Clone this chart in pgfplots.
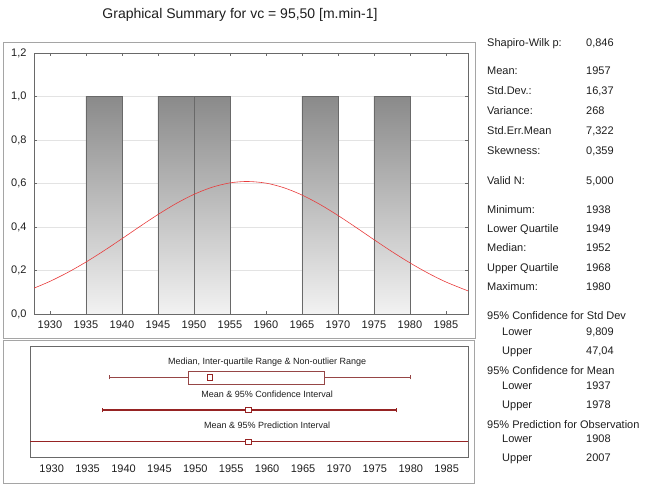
\documentclass[border=0pt]{standalone}
\usepackage{pgfplots}
\pgfplotsset{compat=1.18}
\usepackage{fontspec}
\setmainfont{Liberation Sans}
\definecolor{dred}{RGB}{150,35,35}
\definecolor{bred}{RGB}{150,70,70}
\definecolor{axgray}{RGB}{105,105,105}
\definecolor{panel}{RGB}{165,165,165}
\definecolor{bartop}{RGB}{138,138,138}
\definecolor{barbot}{RGB}{242,242,242}
\definecolor{curve}{RGB}{232,60,60}
\definecolor{txt}{RGB}{30,30,30}
\begin{document}
\begin{tikzpicture}[x=1pt,y=1pt]
\useasboundingbox (0,0) rectangle (650,487);
\draw[panel] (3,445) rectangle (475,149);
\draw[panel] (3,147) rectangle (474,4);
\node[font=\fontsize{14}{16}\selectfont, text=txt] at (240,472) {Graphical Summary for vc = 95,50 [m.min-1]};

\begin{axis}[at={(34pt,173pt)}, anchor=south west, scale only axis,
  width=434pt, height=261pt,
  xmin=1927.78, xmax=1988.06, ymin=0, ymax=1.2,
  xtick={1930,1935,1940,1945,1950,1955,1960,1965,1970,1975,1980,1985},
  ytick={0,0.2,0.4,0.6,0.8,1.0,1.2},
  tick align=inside, major tick length=3pt,
  tick style={axgray, line width=0.5pt},
  axis line style={axgray, line width=0.6pt},
  ymajorgrids, grid style={gray!22, line width=0.5pt},
  /pgf/number format/assume math mode=true,
  ticklabel style={font=\fontsize{11}{12}\selectfont, text=txt},
  xticklabel style={/pgf/number format/1000 sep={}, yshift=-3pt},
  yticklabel style={/pgf/number format/.cd, fixed, fixed zerofill, precision=1, use comma, /tikz/.cd, xshift=-4pt},
]
\addplot[ybar interval, draw=axgray, line width=0.5pt, top color=bartop, bottom color=barbot] coordinates {(1935,1)(1940,1)};
\addplot[ybar interval, draw=axgray, line width=0.5pt, top color=bartop, bottom color=barbot] coordinates {(1945,1)(1950,1)};
\addplot[ybar interval, draw=axgray, line width=0.5pt, top color=bartop, bottom color=barbot] coordinates {(1950,1)(1955,1)};
\addplot[ybar interval, draw=axgray, line width=0.5pt, top color=bartop, bottom color=barbot] coordinates {(1965,1)(1970,1)};
\addplot[ybar interval, draw=axgray, line width=0.5pt, top color=bartop, bottom color=barbot] coordinates {(1975,1)(1980,1)};
\addplot[curve, line width=0.6pt, smooth, no marks] coordinates {
(1927.78,0.1188)(1930,0.1501)(1932.5,0.1916)(1935,0.2389)(1937.5,0.2910)
(1940,0.3463)(1942.5,0.4027)(1945,0.4573)(1947.5,0.5075)(1950,0.5501)
(1952.5,0.5826)(1955,0.6028)(1957.4,0.6093)(1960,0.6017)(1962.5,0.5804)
(1965,0.5470)(1967.5,0.5037)(1970,0.4531)(1972.5,0.3982)(1975,0.3418)
(1977.5,0.2867)(1980,0.2350)(1982.5,0.1881)(1985,0.1471)(1988.06,0.1062)};
\end{axis}

\begin{axis}[at={(30pt,30pt)}, anchor=south west, scale only axis,
  width=438pt, height=110.3pt,
  xmin=1926.98, xmax=1987.97, ymin=0, ymax=1,
  xtick={1930,1935,1940,1945,1950,1955,1960,1965,1970,1975,1980,1985},
  ytick=\empty, major tick length=0pt,
  axis line style={axgray, line width=0.6pt},
  /pgf/number format/assume math mode=true,
  ticklabel style={font=\fontsize{11}{12}\selectfont, text=txt},
  xticklabel style={/pgf/number format/1000 sep={}, yshift=-4pt},
]
% box & whiskers
\addplot[bred, line width=0.6pt] coordinates {(1938,0.721)(1949,0.721)};
\addplot[bred, line width=0.6pt] coordinates {(1968,0.721)(1980,0.721)};
\addplot[bred, line width=0.6pt] coordinates {(1938,0.703)(1938,0.739)};
\addplot[bred, line width=0.6pt] coordinates {(1980,0.703)(1980,0.739)};
\addplot[bred, line width=0.6pt, fill=white] coordinates {(1949,0.662)(1968,0.662)(1968,0.780)(1949,0.780)(1949,0.662)};
\addplot[only marks, mark=square*, mark size=2.6pt, mark options={draw=dred, fill=white, line width=0.8pt}] coordinates {(1952,0.721)};
% confidence interval
\addplot[dred, line width=1.4pt] coordinates {(1937,0.426)(1978,0.426)};
\addplot[dred, line width=0.6pt] coordinates {(1937,0.405)(1937,0.447)};
\addplot[dred, line width=0.6pt] coordinates {(1978,0.405)(1978,0.447)};
\addplot[only marks, mark=square*, mark size=2.6pt, mark options={draw=dred, fill=white, line width=0.8pt}] coordinates {(1957.4,0.426)};
% prediction interval (1908 to 2007, cut at the axis edges)
\addplot[dred, line width=1.4pt] coordinates {(1926.98,0.139)(1987.97,0.139)};
\addplot[only marks, mark=square*, mark size=2.6pt, mark options={draw=dred, fill=white, line width=0.8pt}] coordinates {(1957.4,0.139)};
\node[font=\fontsize{9}{10}\selectfont, text=txt] at (axis cs:1960,0.864) {Median, Inter-quartile Range \& Non-outlier Range};
\node[font=\fontsize{9}{10}\selectfont, text=txt] at (axis cs:1960,0.571) {Mean \& 95\% Confidence Interval};
\node[font=\fontsize{9}{10}\selectfont, text=txt] at (axis cs:1960,0.290) {Mean \& 95\% Prediction Interval};
\end{axis}

\begin{scope}[every node/.style={font=\fontsize{11}{12}\selectfont, text=txt, anchor=west, inner sep=0pt, text height=8pt, text depth=2.4pt}]
\node at (487,487-44) {Shapiro-Wilk p:}; \node at (586,487-44) {0,846};
\node at (487,487-72) {Mean:}; \node at (586,487-72) {1957};
\node at (487,487-92) {Std.Dev.:}; \node at (586,487-92) {16,37};
\node at (487,487-112) {Variance:}; \node at (586,487-112) {268};
\node at (487,487-132) {Std.Err.Mean}; \node at (586,487-132) {7,322};
\node at (487,487-152) {Skewness:}; \node at (586,487-152) {0,359};
\node at (487,487-182) {Valid N:}; \node at (586,487-182) {5,000};
\node at (487,487-211) {Minimum:}; \node at (586,487-211) {1938};
\node at (487,487-230) {Lower Quartile}; \node at (586,487-230) {1949};
\node at (487,487-249) {Median:}; \node at (586,487-249) {1952};
\node at (487,487-269) {Upper Quartile}; \node at (586,487-269) {1968};
\node at (487,487-288) {Maximum:}; \node at (586,487-288) {1980};
\node at (487,487-317) {95\% Confidence for Std Dev};
\node at (502,487-333) {Lower}; \node at (586,487-333) {9,809};
\node at (502,487-352) {Upper}; \node at (586,487-352) {47,04};
\node at (487,487-372) {95\% Confidence for Mean};
\node at (502,487-387) {Lower}; \node at (586,487-387) {1937};
\node at (502,487-406) {Upper}; \node at (586,487-406) {1978};
\node at (487,487-426) {95\% Prediction for Observation};
\node at (502,487-440) {Lower}; \node at (586,487-440) {1908};
\node at (502,487-459) {Upper}; \node at (586,487-459) {2007};
\end{scope}
\end{tikzpicture}
\end{document}
